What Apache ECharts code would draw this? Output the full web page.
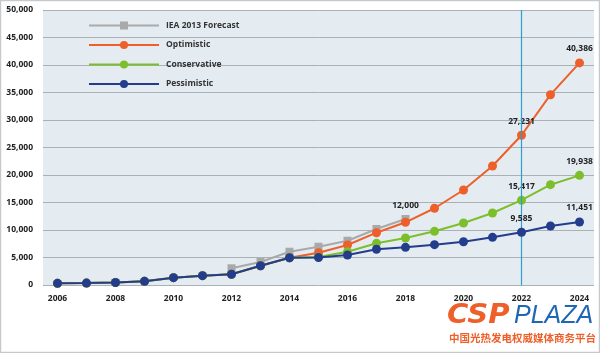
<!DOCTYPE html>
<html><head><meta charset="utf-8">
<script src="https://cdn.jsdelivr.net/npm/echarts@6/dist/echarts.min.js"></script>
<style>html,body{margin:0;padding:0;background:#fff}#c{width:600px;height:353px}</style>
</head><body><div id="c"></div>
<script>
const years = ['2006','2007','2008','2009','2010','2011','2012','2013','2014','2015','2016','2017','2018','2019','2020','2021','2022','2023','2024'];
const iea = [null,null,null,null,null,null,3040,4180,6050,6960,8050,10180,12000,null,null,null,null,null,null];
const optimistic = [300,350,450,670,1330,1700,1950,3500,4960,5870,7270,9510,11400,13950,17270,21640,27231,34600,40386];
const conservative = [300,350,450,670,1330,1700,1950,3500,4960,5100,6050,7580,8550,9760,11270,13090,15417,18240,19938];
const pessimistic = [300,350,450,670,1330,1700,1950,3500,4960,5000,5450,6500,6850,7330,7870,8670,9585,10730,11451];
const labelled = {iea:[12], optimistic:[16,18], conservative:[16,18], pessimistic:[16,18]};
const yTicks = [0,5000,10000,15000,20000,25000,30000,35000,40000,45000,50000];
const markYear = '2022';

const fmt = v => v.toLocaleString('en-US');
function mk(name, data, color, symbol, size, key, z) {
  return {
    name, type:'line', data, z,
    symbol, symbolSize:size, showSymbol:true,
    lineStyle:{color, width:2}, itemStyle:{color},
    connectNulls:false,
    label:{show:true, position:'top', distance:5, fontSize:8.5, fontWeight:'bold', color:'#222', fontFamily:'Open Sans',
      formatter: p => labelled[key].includes(p.dataIndex) ? fmt(p.value) : ''},
    emphasis:{disabled:true}
  };
}
const series = [
  {name:'marker', type:'line', data:[], z:1, itemStyle:{color:'#2a9fd0'},
    markLine:{silent:true, symbol:'none', label:{show:false}, lineStyle:{color:'#2a9fd0', width:1.2, type:'solid', opacity:1}, emphasis:{disabled:true}, data:[{xAxis:markYear}]}},
  mk('IEA 2013 Forecast', iea, '#a9a9a9', 'rect', 8, 'iea', 2),
  mk('Optimistic', optimistic, '#ee5f2a', 'circle', 9, 'optimistic', 3),
  mk('Conservative', conservative, '#7cbf2b', 'circle', 9, 'conservative', 4),
  mk('Pessimistic', pessimistic, '#233d8c', 'circle', 9, 'pessimistic', 5)
];

const chart = echarts.init(document.getElementById('c'), null, {renderer:'canvas'});
chart.setOption({
  animation:false,
  backgroundColor:'#fff',
  grid:{left:43, right:6, top:10, bottom:68, show:true, backgroundColor:'#e4ecf2', borderWidth:0},
  legend:{orient:'vertical', left:83, top:16, itemWidth:70, itemHeight:10, itemGap:10.5,
    textStyle:{fontSize:8.5, fontWeight:'bold', color:'#333', fontFamily:'Open Sans', padding:[0,0,0,2]},
    data:['IEA 2013 Forecast','Optimistic','Conservative','Pessimistic']},
  xAxis:{type:'category', data:years, boundaryGap:true,
    axisLine:{show:false}, axisTick:{show:false},
    axisLabel:{interval:1, margin:9, fontSize:8.5, fontWeight:'bold', color:'#222', fontFamily:'Open Sans'}},
  yAxis:{type:'value', min:yTicks[0], max:yTicks[yTicks.length-1], interval:5000,
    axisLine:{show:false}, axisTick:{show:false},
    splitLine:{lineStyle:{color:'#a9b0b6', width:1}},
    axisLabel:{margin:10, fontSize:8.5, fontWeight:'bold', color:'#222', fontFamily:'Open Sans', formatter: v => fmt(v)}},
  series,
  graphic:[
    {type:'rect', shape:{x:0.5,y:0.5,width:599,height:352}, style:{fill:'none', stroke:'#c5cacf', lineWidth:1.5}, silent:true, z:0},
    {type:'text', x:447, y:303, scaleX:1.12, style:{text:'CSP', fill:'#ee5f2a', font:'italic bold 26px "DejaVu Sans"'}},
    {type:'text', x:514, y:304, style:{text:'PLAZA', fill:'#1f66b3', font:'italic 25px "Liberation Sans"'}},
    {type:'text', x:449, y:333, style:{text:'中国光热发电权威媒体商务平台', fill:'#ee5f2a', font:'bold 10.5px "Noto Sans CJK SC"'}}
  ]
});
</script></body></html>
